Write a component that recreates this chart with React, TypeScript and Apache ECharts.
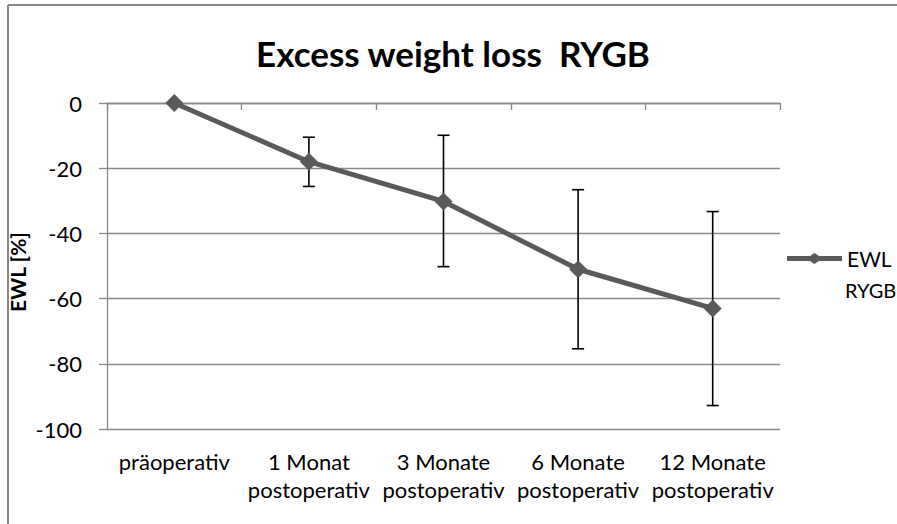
import React, { useEffect, useRef } from "react";
import * as echarts from "echarts";

const categories = [
  "präoperativ",
  "1 Monat\npostoperativ",
  "3 Monate\npostoperativ",
  "6 Monate\npostoperativ",
  "12 Monate\npostoperativ",
];
const ewlValues = [0, -18, -30.2, -51, -63];
const errUpper = [0, -10.5, -9.9, -26.6, -33.3];
const errLower = [0, -25.6, -50.2, -75.4, -92.8];
const yTicks = { min: -100, max: 0, interval: 20 };
const titleText = "Excess weight loss  RYGB";
const yAxisTitle = "EWL [%]";
const seriesName = "EWL";
const seriesName2 = "RYGB";

const FONT = "Lato, 'Noto Sans', sans-serif";
const GRID = "#898989";
const LINE = "#5a5a5a";

export default function App() {
  const ref = useRef<HTMLDivElement>(null);
  useEffect(() => {
    if (!ref.current) return;
    const chart = echarts.init(ref.current, null, { renderer: "svg" });
    const errData = categories.map((_, i) => [i, errUpper[i], errLower[i]]);
    chart.setOption({
      animation: false,
      backgroundColor: "#ffffff",
      title: {
        text: titleText,
        left: 453,
        top: 35,
        padding: 0,
        textAlign: "center",
        textStyle: { fontFamily: FONT, fontWeight: "bold", fontSize: 35, color: "#000" },
      },
      grid: { left: 107, right: 117, top: 103, bottom: 95, containLabel: false },
      legend: {
        left: 787,
        top: 248,
        padding: 0,
        data: [seriesName],
        itemWidth: 55,
        itemHeight: 11,
        itemGap: 5,
        icon: "path://M0,3 L23,3 L27.5,0 L32,3 L55,3 L55,8 L32,8 L27.5,11 L23,8 L0,8 Z",
        textStyle: { fontFamily: FONT, fontSize: 21, color: "#000" },
      },
      xAxis: [
        {
          type: "category",
          data: categories,
          position: "bottom",
          boundaryGap: true,
          axisLine: { show: false },
          axisTick: { show: false },
          axisLabel: {
            fontFamily: FONT,
            fontSize: 22,
            color: "#000",
            lineHeight: 28,
            margin: 18,
            interval: 0,
          },
        },
        {
          type: "category",
          data: categories,
          position: "top",
          boundaryGap: true,
          axisLine: { show: true, lineStyle: { color: GRID, width: 1.3 } },
          axisTick: { show: true, inside: true, length: 7, lineStyle: { color: GRID, width: 1.3 } },
          axisLabel: { show: false },
        },
      ],
      yAxis: {
        type: "value",
        min: yTicks.min,
        max: yTicks.max,
        interval: yTicks.interval,
        axisLine: { show: true, lineStyle: { color: GRID, width: 1.3 } },
        axisTick: { show: true, length: 8, lineStyle: { color: GRID, width: 1.3 } },
        axisLabel: { fontFamily: FONT, fontSize: 22, color: "#000", margin: 25 },
        splitLine: { show: true, lineStyle: { color: GRID, width: 1.3 } },
      },
      series: [
        {
          type: "custom",
          name: "err",
          xAxisIndex: 0,
          z: 1,
          data: errData,
          renderItem: (params: any, api: any) => {
            const x = api.value(0);
            const hi = api.coord([x, api.value(1)]);
            const lo = api.coord([x, api.value(2)]);
            if (Math.abs(hi[1] - lo[1]) < 1) return { type: "group", children: [] };
            const half = 6;
            const style = { stroke: "#000", lineWidth: 1.6 };
            return {
              type: "group",
              children: [
                { type: "line", shape: { x1: hi[0], y1: hi[1], x2: lo[0], y2: lo[1] }, style },
                { type: "line", shape: { x1: hi[0] - half, y1: hi[1], x2: hi[0] + half, y2: hi[1] }, style },
                { type: "line", shape: { x1: lo[0] - half, y1: lo[1], x2: lo[0] + half, y2: lo[1] }, style },
              ],
            };
          },
        },
        {
          type: "line",
          name: seriesName,
          xAxisIndex: 0,
          z: 3,
          data: ewlValues,
          symbol: "diamond",
          symbolSize: 18,
          lineStyle: { color: LINE, width: 5 },
          itemStyle: { color: LINE },
        },
      ],
      graphic: [
        {
          type: "text",
          x: 845,
          y: 290,
          style: {
            text: seriesName2,
            font: `20px ${FONT}`,
            fill: "#000",
            textAlign: "left",
            textVerticalAlign: "middle",
          },
        },
        {
          type: "text",
          x: 17,
          y: 272,
          rotation: Math.PI / 2,
          style: {
            text: yAxisTitle,
            font: `bold 21px ${FONT}`,
            fill: "#000",
            textAlign: "center",
            textVerticalAlign: "middle",
          },
        },
        {
          type: "line",
          shape: { x1: 8, y1: 5, x2: 897, y2: 5 },
          style: { stroke: "#888", lineWidth: 2 },
        },
        {
          type: "line",
          shape: { x1: 8, y1: 5, x2: 8, y2: 524 },
          style: { stroke: "#888", lineWidth: 2 },
        },
      ],
    });
    return () => chart.dispose();
  }, []);
  return (
    <div
      ref={ref}
      style={{ position: "fixed", left: 0, top: 0, width: 897, height: 524 }}
    />
  );
}
